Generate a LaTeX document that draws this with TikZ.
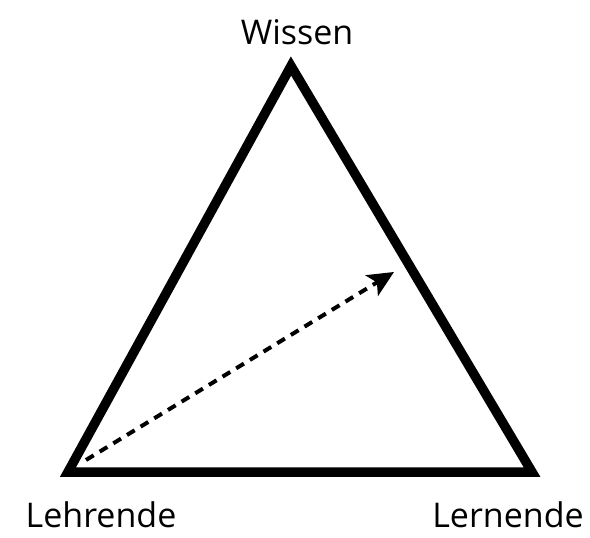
\documentclass[tikz,border=0pt]{standalone}
\usepackage{fontspec}
\setmainfont{Open Sans}
\usetikzlibrary{arrows.meta}
\begin{document}
\begin{tikzpicture}[x=1pt,y=-1pt,
  side/.style={line width=9.5pt,line join=miter,line cap=butt},
  lbl/.style={font=\fontsize{34}{38}\selectfont,inner sep=0pt},
  flow/.style={line width=4pt,dash pattern=on 9pt off 7pt,-{Stealth[length=26pt,width=24pt,inset=6pt]}}]
\useasboundingbox (0,0) rectangle (590,538);
\coordinate (W) at (291,66);
\coordinate (L) at (68,472);
\coordinate (R) at (532,472);
\draw[side] (W) -- (R) -- (L) -- cycle;
\coordinate (s) at (86,460);
\coordinate (t) at (394,272);
\draw[flow] (s) -- (t);
\node[lbl] (wissen) at (297,32) {Wissen};
\node[lbl] (lehrende) at (101,515) {Lehrende};
\node[lbl] (lernende) at (508,515) {Lernende};
\end{tikzpicture}
\end{document}
